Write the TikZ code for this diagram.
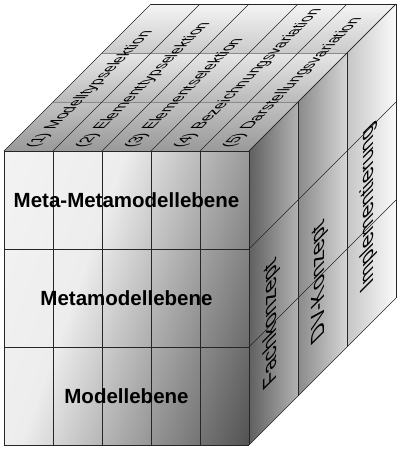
\documentclass[tikz,border=0pt]{standalone}
\usepackage{fontspec}
\setmainfont{Liberation Sans}
\definecolor{fA}{HTML}{F4F4F4}
\definecolor{fB}{HTML}{EDEDED}
\definecolor{fC}{HTML}{535353}
\definecolor{tfT}{HTML}{C2C2C2}
\definecolor{tfB}{HTML}{999999}
\definecolor{tmT}{HTML}{E6E6E6}
\definecolor{tmB}{HTML}{BABABA}
\definecolor{tbT}{HTML}{F4F4F4}
\definecolor{tbB}{HTML}{CACACA}
\definecolor{r1L}{HTML}{606060}
\definecolor{r1R}{HTML}{B2B2B2}
\definecolor{r2L}{HTML}{8A8A8A}
\definecolor{r2R}{HTML}{D6D6D6}
\definecolor{r3L}{HTML}{C6C6C6}
\definecolor{r3R}{HTML}{FAFAFA}
\definecolor{lineC}{HTML}{262626}
\definecolor{divC}{HTML}{8A8A8A}
\pgfdeclarehorizontalshading{frontsh}{100bp}{color(0bp)=(fA); color(27bp)=(fA); color(43.75bp)=(fB); color(70.6bp)=(fC); color(100bp)=(fC)}
\begin{document}
\begin{tikzpicture}[x=1pt,y=1pt,
  gridline/.style={draw=lineC, line width=0.6pt},
  divline/.style={draw=divC, line width=0.6pt},
  levellabel/.style={font=\fontsize{20.5}{24}\selectfont\bfseries, text=black, inner sep=0pt},
  toplabel/.style={font=\fontsize{10}{12}\selectfont, text=black, inner sep=0pt, transform shape, anchor=base west},
  sidelabel/.style={font=\fontsize{10}{12}\selectfont, text=black, inner sep=0pt, transform shape, anchor=center}]
\useasboundingbox (0,0) rectangle (400,450);
\fill[white] (0,0) rectangle (400,450);

% front face shading
\begin{scope}
\clip (4,5) rectangle (249,299);
\shade[shading=frontsh, shading angle=-20] (-73.5,-48) rectangle (326.5,352);
\end{scope}

% top face rows
\foreach \k/\tc/\bc in {0/tfT/tfB, 1/tmT/tmB, 2/tbT/tbB}
  \shade[top color=\tc, bottom color=\bc] ({4+49*\k},{299+49*\k}) -- ({249+49*\k},{299+49*\k}) -- ({298+49*\k},{348+49*\k}) -- ({53+49*\k},{348+49*\k}) -- cycle;

% right face strips
\foreach \k/\lc/\rc in {0/r1L/r1R, 1/r2L/r2R, 2/r3L/r3R}
  \shade[left color=\lc, right color=\rc] ({249+49*\k},{5+49*\k}) -- ({298+49*\k},{54+49*\k}) -- ({298+49*\k},{348+49*\k}) -- ({249+49*\k},{299+49*\k}) -- cycle;

% top face dividers (depth)
\foreach \k in {1,2}
  \draw[divline] ({4+49*\k},{299+49*\k}) -- ({249+49*\k},{299+49*\k});
% top face column lines
\foreach \i in {0,...,5}
  \draw[gridline] ({4+49*\i},299) -- ({151+49*\i},446);
% top back edge
\draw[gridline] (151,446) -- (396,446);

% right face lines
\foreach \k in {0,...,3}
  \draw[gridline] ({249+49*\k},{5+49*\k}) -- ({249+49*\k},{299+49*\k});
\foreach \j in {0,...,3}
  \draw[gridline] (249,{5+98*\j}) -- (396,{152+98*\j});

% front face grid
\foreach \i in {0,...,5}
  \draw[gridline] ({4+49*\i},5) -- ({4+49*\i},299);
\foreach \j in {0,...,3}
  \draw[gridline] (4,{5+98*\j}) -- (249,{5+98*\j});

% front labels
\node[levellabel] (mm) at (126.5,250) {Meta-Metamodellebene};
\node[levellabel] (m) at (126.5,152) {Metamodellebene};
\node[levellabel] (me) at (126.5,54) {Modellebene};

% top labels
\node[toplabel, cm={1.2,1.2,-1.7,0,(36,302)}] (t1) at (0,0) {(1) Modelltypselektion};
\node[toplabel, cm={1.2,1.2,-1.7,0,(85,302)}] (t2) at (0,0) {(2) Elementtypselektion};
\node[toplabel, cm={1.2,1.2,-1.7,0,(134,302)}] (t3) at (0,0) {(3) Elementselektion};
\node[toplabel, cm={1.2,1.2,-1.7,0,(183,302)}] (t4) at (0,0) {(4) Bezeichnungsvariation};
\node[toplabel, cm={1.2,1.2,-1.7,0,(232,302)}] (t5) at (0,0) {(5) Darstellungsvariation};

% side labels
\node[sidelabel, cm={0,2.16,-1.9,-1.9,(271.5,127)}] (s1) at (0,0) {Fachkonzept};
\node[sidelabel, cm={0,2.16,-1.9,-1.9,(320,169)}] (s2) at (0,0) {DV-Konzept};
\node[sidelabel, cm={0,2.16,-1.9,-1.9,(369,243.5)}] (s3) at (0,0) {Implementierung};
\end{tikzpicture}
\end{document}
